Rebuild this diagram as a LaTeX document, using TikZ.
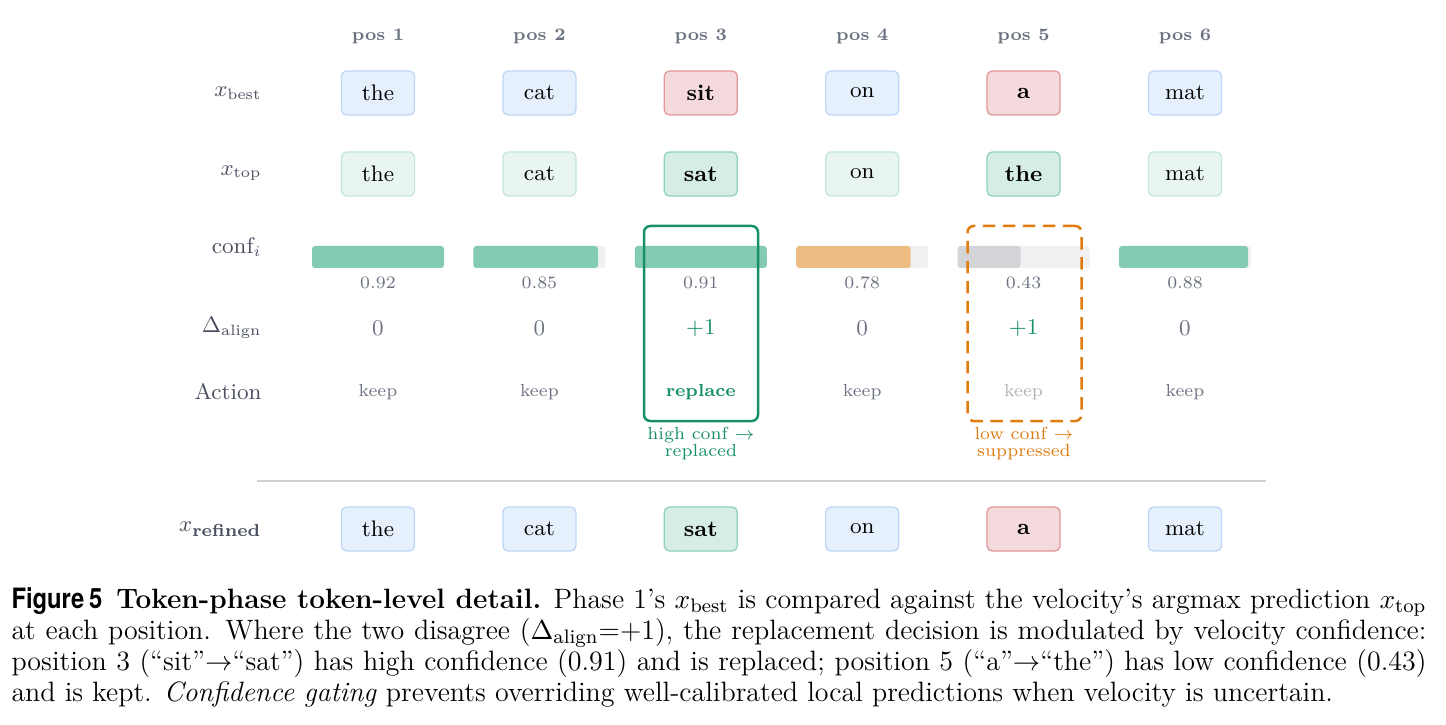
\documentclass[tikz,border=0pt]{standalone}
\usepackage{fontspec}
\newfontfamily\figfont[FakeStretch=0.85]{TeX Gyre Heros}
\usetikzlibrary{positioning}

% token and bar colours
\definecolor{blueFill}{HTML}{E6F0FC}
\definecolor{blueLine}{HTML}{BDD5F6}
\definecolor{redFill}{HTML}{F4DADC}
\definecolor{redLine}{HTML}{E29699}
\definecolor{paleFill}{HTML}{E9F5F0}
\definecolor{paleLine}{HTML}{C3E6D8}
\definecolor{greenFill}{HTML}{D5EDE4}
\definecolor{greenLine}{HTML}{8ED2B7}
\definecolor{barTeal}{HTML}{84CBB4}
\definecolor{barOrange}{HTML}{ECBC82}
\definecolor{barGray}{HTML}{D3D4D8}
\definecolor{barTrack}{HTML}{F1F1F2}
\definecolor{okGreen}{HTML}{17906A}
\definecolor{warnOrange}{HTML}{E07B10}
\definecolor{labGray}{HTML}{6B7280}
\definecolor{rowGray}{HTML}{4B5060}
\definecolor{ruleGray}{HTML}{D2D2D6}

\tikzset{
  tok/.style={draw, rounded corners=2pt, line width=0.5pt, minimum width=29.2pt,
    minimum height=17.6pt, inner sep=0pt, font=\small},
  tokblue/.style={tok, fill=blueFill, draw=blueLine},
  tokred/.style={tok, fill=redFill, draw=redLine, font=\small\bfseries},
  tokpale/.style={tok, fill=paleFill, draw=paleLine},
  tokgreen/.style={tok, fill=greenFill, draw=greenLine, font=\small\bfseries},
  head/.style={font=\scriptsize\bfseries, text=labGray},
  rowlab/.style={anchor=east, font=\small, text=rowGray, inner sep=0pt},
  hlbox/.style={minimum width=45.6pt, minimum height=78pt, rounded corners=2.5pt,
    line width=1pt, inner sep=0pt},
  caption/.style={anchor=base west, inner sep=0pt, text width=566pt, align=justify,
    font=\fontsize{11.2}{12.4}\selectfont}
}

\begin{document}
\begin{tikzpicture}[x=0.4pt, y=-0.4pt]
\useasboundingbox (0,0) rectangle (1446,725);
% row labels
\node[rowlab] (lbest) at (262,93) {$x_{\mathrm{best}}$};
\node[rowlab] (ltop) at (262,173) {$x_{\mathrm{top}}$};
\node[rowlab] (lconf) at (262,247) {$\mathrm{conf}_i$};
\node[rowlab] (lalign) at (262,328) {$\Delta_{\mathrm{align}}$};
\node[rowlab] (lact) at (262,392) {Action};
\node[rowlab] (lref) at (262,529) {$x_{\mbox{\scriptsize\bfseries refined}}$};
% one column per position
\foreach \i in {1,...,6}
    \node[head] (pos\i) at ({378+161.4*(\i-1)},36) {pos \i};
\foreach \w/\s [count=\i] in {the/tokblue, cat/tokblue, sit/tokred, on/tokblue, a/tokred, mat/tokblue}
    \node[\s] (best\i) at ({378+161.4*(\i-1)},93) {\w};
\foreach \w/\s [count=\i] in {the/tokpale, cat/tokpale, sat/tokgreen, on/tokpale, the/tokgreen, mat/tokpale}
    \node[\s] (top\i) at ({378+161.4*(\i-1)},174) {\w};
% confidence bars, scaled to 0.9
\foreach \c/\col [count=\i] in {0.92/barTeal, 0.85/barTeal, 0.91/barTeal, 0.78/barOrange, 0.43/barGray, 0.88/barTeal}{
    \pgfmathsetmacro{\x}{378+161.4*(\i-1)}
    \pgfmathsetmacro{\w}{132*min(1,\c/0.9)}
    \fill[barTrack, rounded corners=1.2pt] (\x-66,246) rectangle (\x+66,268);
    \fill[\col, rounded corners=1.2pt] (\x-66,246) rectangle (\x-66+\w,268);
    \node[font=\scriptsize, text=labGray] (val\i) at (\x,283) {\c};
}
\foreach \d/\col [count=\i] in {0/labGray, 0/labGray, +1/okGreen, 0/labGray, +1/okGreen, 0/labGray}
    \node[font=\small, text=\col] (dal\i) at ({378+161.4*(\i-1)},328) {\d};
\foreach \a/\col [count=\i] in {keep/labGray, keep/labGray, \textbf{replace}/okGreen, keep/labGray, keep/labGray!55, keep/labGray}
    \node[font=\scriptsize, text=\col] (act\i) at ({378+161.4*(\i-1)},392) {\a};
% gating boxes
\node[hlbox, draw=okGreen] (hi3) at (701,323.5) {};
\node[hlbox, draw=warnOrange, dash pattern=on 5pt off 3pt] (lo5) at (1024.5,323.5) {};
\node[font=\fontsize{7}{6.8}\selectfont, text=okGreen, align=center] (note3) at (701,444) {high conf $\rightarrow$\\replaced};
\node[font=\fontsize{7}{6.8}\selectfont, text=warnOrange, align=center] (note5) at (1024,444) {low conf $\rightarrow$\\suppressed};
\draw[ruleGray, line width=1pt] (257,481) -- (1266,481);
\foreach \w/\s [count=\i] in {the/tokblue, cat/tokblue, sat/tokgreen, on/tokblue, a/tokred, mat/tokblue}
    \node[\s] (ref\i) at ({378+161.4*(\i-1)},529) {\w};
% caption
\node[caption] (cap) at (11,608) {{\figfont\bfseries Figure\,5}\enspace \textbf{Token-phase token-level detail.} Phase 1's $x_{\mathrm{best}}$ is compared against the velocity's argmax prediction $x_{\mathrm{top}}$\linebreak
at each position. Where the two disagree ($\Delta_{\mathrm{align}}$=+1), the replacement decision is modulated by velocity confidence:\linebreak
position 3 (``sit''$\rightarrow$``sat'') has high confidence (0.91) and is replaced; position 5 (``a''$\rightarrow$``the'') has low confidence (0.43)\linebreak
and is kept. \emph{Confidence gating} prevents overriding well-calibrated local predictions when velocity is uncertain.};
\end{tikzpicture}
\end{document}
